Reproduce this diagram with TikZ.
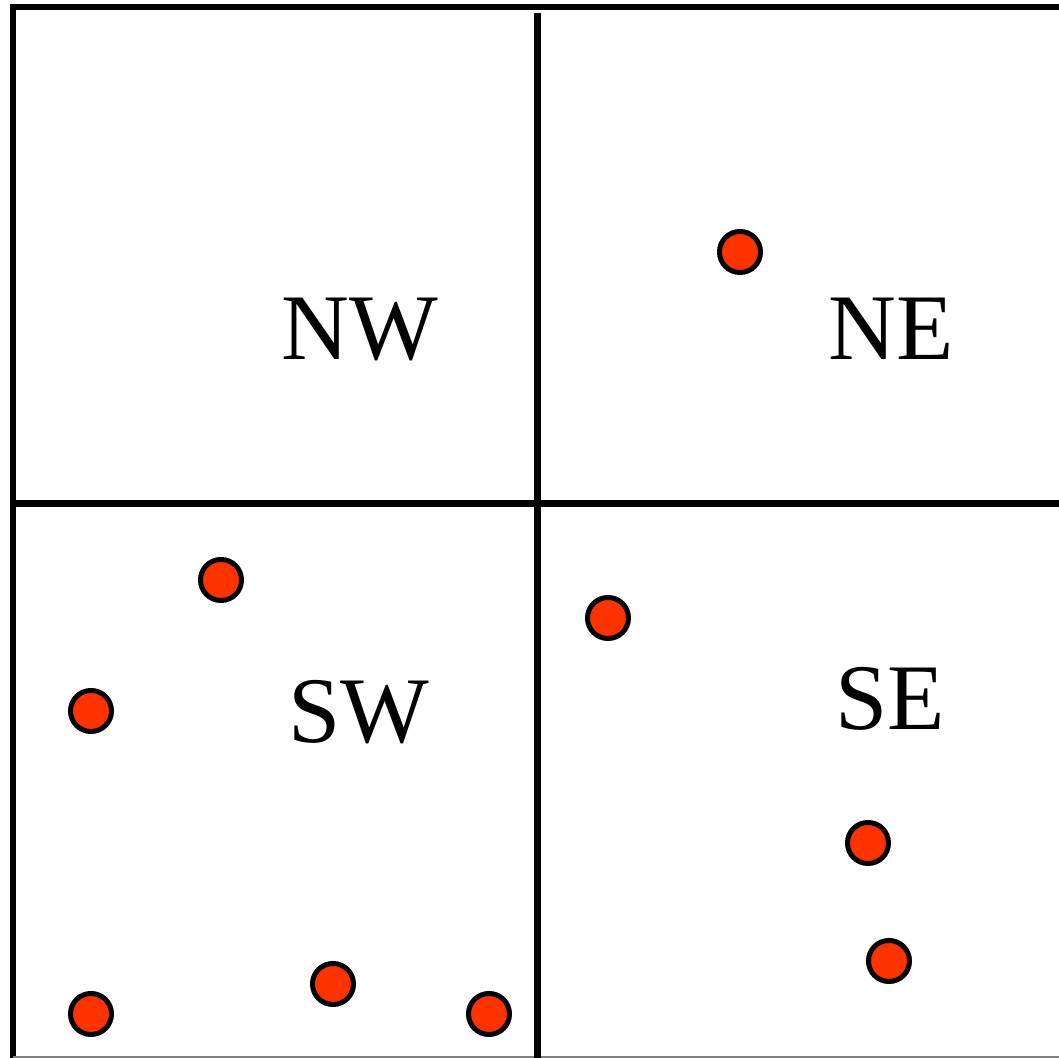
\documentclass[tikz,border=0pt]{standalone}
\usepackage{fontspec}
\setmainfont{Liberation Serif}
\definecolor{pointred}{RGB}{255,51,0}
\begin{document}
\begin{tikzpicture}[x=0.01cm,y=-0.01cm,
  pt/.style={circle,draw=black,fill=pointred,line width=0.05cm,minimum size=0.41cm,inner sep=0pt},
  quad/.style={font=\fontsize{26.7pt}{30pt}\selectfont,inner sep=0pt,anchor=base},
  frame/.style={line width=0.06cm,draw=black},
  divider/.style={line width=0.07cm,draw=black}]
\useasboundingbox (0,0) rectangle (1059,1058);
% outer frame
\draw[frame] (1070,7) -- (13,7) -- (13,1070);
\draw[gray,line width=0.015cm] (13,1057) -- (1070,1057);
% dividers
\draw[divider] (537.5,13) -- (537.5,1070);
\draw[divider] (13,504) -- (1070,504);
% labels
\node[quad] (nw) at (360,360) {NW};
\node[quad] (ne) at (891,360) {NE};
\node[quad] (sw) at (359,743) {SW};
\node[quad] (se) at (890,730) {SE};
% points
\node[pt] (p1) at (740,252) {};
\node[pt] (p2) at (221,580) {};
\node[pt] (p3) at (91,711) {};
\node[pt] (p4) at (91,1014) {};
\node[pt] (p5) at (333,984) {};
\node[pt] (p6) at (489,1014) {};
\node[pt] (p7) at (608,618) {};
\node[pt] (p8) at (868,843) {};
\node[pt] (p9) at (889,961) {};
\end{tikzpicture}
\end{document}
